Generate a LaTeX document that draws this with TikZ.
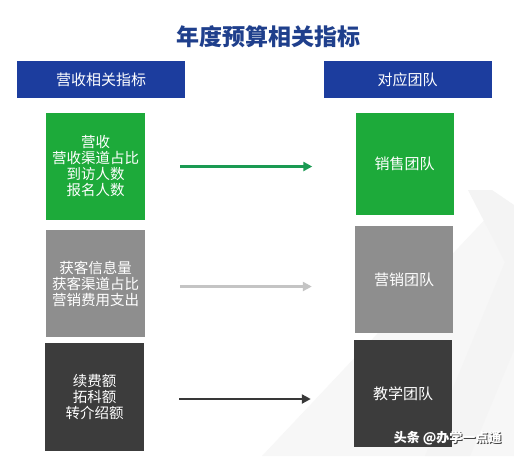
\documentclass[tikz,border=0pt]{standalone}
\usepackage{fontspec}
\setmainfont{Noto Sans CJK SC}
\usetikzlibrary{arrows.meta}
\definecolor{titleblue}{HTML}{1F3F8C}
\definecolor{headblue}{HTML}{1C3D9E}
\definecolor{boxgreen}{HTML}{1DAA3A}
\definecolor{boxgray}{HTML}{8E8E8E}
\definecolor{boxdark}{HTML}{3C3C3C}
\definecolor{arrgreen}{HTML}{1A9A52}
\definecolor{arrgray}{HTML}{C4C4C4}
\definecolor{arrdark}{HTML}{383838}
\tikzset{
  header/.style={fill=headblue, text=white, minimum width=168pt, minimum height=37pt, inner sep=0pt, font=\fontsize{15}{17}\selectfont},
  metric/.style={text=white, minimum width=99pt, inner sep=0pt, align=center, font=\fontsize{14.5}{16}\selectfont},
  team/.style={text=white, minimum width=98pt, inner sep=0pt, align=center, font=\fontsize{15}{17}\selectfont},
  link/.style={line width=2.8pt, -{Triangle[length=9pt,width=9pt]}, shorten <=35pt, shorten >=43pt},
  wmark/.style={font=\fontsize{13}{15}\selectfont\bfseries, anchor=east},
}
\begin{document}
\begin{tikzpicture}[x=1pt,y=-1pt]
\useasboundingbox (0,0) rectangle (514,456);
\fill[white] (0,0) rectangle (514,456);
% faint background chevrons
\fill[gray!6] (262,456) -- (492,212) -- (514,240) -- (514,456) -- cycle;
\fill[gray!9] (468,190) -- (505,262) -- (425,456) -- (470,456) -- (514,350) -- (514,205) -- (492,190) -- cycle;
% title
\node[text=titleblue, font=\fontsize{23}{26}\selectfont\bfseries] (title) at (268,37) {年度预算相关指标};
% headers
\node[header] (hl) at (101,79.5) {营收相关指标};
\node[header] (hr) at (407.5,79.5) {对应团队};
% left metric boxes
\node[metric, fill=boxgreen, minimum height=107pt] (lg) at (95.5,166.5) {营收\\营收渠道占比\\到访人数\\报名人数};
\node[metric, fill=boxgray, minimum height=107pt] (lgr) at (95.5,283.5) {获客信息量\\获客渠道占比\\营销费用支出};
\node[metric, fill=boxdark, minimum height=108pt] (ld) at (94.5,397) {续费额\\拓科额\\转介绍额};
% right team boxes
\node[team, fill=boxgreen, minimum height=102pt] (rg) at (404.5,164) {销售团队};
\node[team, fill=boxgray, minimum height=107pt] (rgr) at (404,279.5) {营销团队};
\node[team, fill=boxdark, minimum height=107pt] (rd) at (403,393.5) {教学团队};
% arrows
\draw[link, arrgreen] (lg.east) -- (lg.east -| rg.west);
\draw[link, arrgray, line width=2.4pt] ([yshift=-3pt]lgr.east) -- ([yshift=-3pt]lgr.east -| rgr.west);
\draw[link, arrdark] ([yshift=-2pt]ld.east) -- ([yshift=-2pt]ld.east -| rd.west);
% watermark
\node[wmark, text=black!75] (wm0) at (506,439) {头条 @办学一点通};
\node[wmark, text=white] (wm) at (505,438) {头条 @办学一点通};
\end{tikzpicture}
\end{document}
